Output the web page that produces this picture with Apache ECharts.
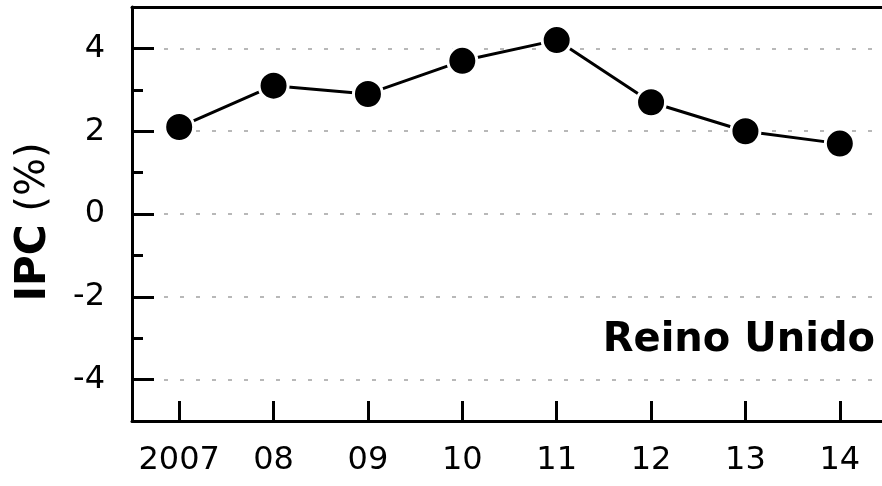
<!DOCTYPE html>
<html lang="es">
<head>
  <meta charset="UTF-8">
  <title>IPC Reino Unido</title>
  <script src="https://cdn.jsdelivr.net/npm/echarts@6/dist/echarts.min.js"></script>
  <style>
    html, body { margin: 0; padding: 0; background: #fff; }
    #main { width: 882px; height: 486px; }
  </style>
</head>
<body>
  <div id="main"></div>
  <script type="text/javascript">
    // values
    var years = ['2007', '08', '09', '10', '11', '12', '13', '14'];
    var ipc = [2.1, 3.1, 2.9, 3.7, 4.2, 2.7, 2.0, 1.7];
    var yMin = -5, yMax = 5;
    var yTicks = ['-5', '-4', '-3', '-2', '-1', '0', '1', '2', '3', '4', '5'];
    var country = 'Reino Unido';

    var font = 'DejaVu Sans';
    var myChart = echarts.init(document.getElementById('main'));

    // major ticks, labels and grid lines only at even values inside the frame
    function isMajor(index, value) {
      var v = Number(value);
      return v % 2 === 0 && Math.abs(v) < 5;
    }

    var option = {
      backgroundColor: '#fff',
      animation: false,
      grid: {
        left: 132, top: 7, width: 755, height: 414,
        outerBoundsMode: 'none',
        containLabel: false,
        show: false
      },
      xAxis: [
        {
          type: 'category',
          data: years,
          boundaryGap: true,
          z: 5,
          axisLine: { show: true, onZero: false, lineStyle: { color: '#000', width: 3 } },
          axisTick: { show: true, alignWithLabel: true, inside: true, length: 20, lineStyle: { color: '#000', width: 3 } },
          axisLabel: { show: true, interval: 0, color: '#000', fontFamily: font, fontSize: 32, margin: 24 },
          splitLine: { show: false }
        },
        {
          // top frame line
          type: 'category',
          data: years,
          position: 'top',
          z: 5,
          axisLine: { show: true, onZero: false, lineStyle: { color: '#000', width: 3 } },
          axisTick: { show: false },
          axisLabel: { show: false },
          splitLine: { show: false }
        }
      ],
      yAxis: [
        {
          // value scale of the series, minor ticks every 1
          type: 'value',
          min: yMin, max: yMax, interval: 1,
          z: 5,
          axisLine: { show: true, onZero: false, lineStyle: { color: '#000', width: 3 } },
          axisTick: { show: true, inside: true, length: 11, lineStyle: { color: '#000', width: 3 } },
          axisLabel: { show: false },
          splitLine: { show: false },
          name: '{b|IPC}{n| (%)}',
          nameLocation: 'middle',
          nameGap: 77,
          nameTextStyle: {
            color: '#000',
            padding: [0, 16, 0, 0],
            rich: {
              b: { fontFamily: font, fontSize: 42, fontWeight: 'bold', color: '#000' },
              n: { fontFamily: font, fontSize: 40, color: '#000' }
            }
          }
        },
        {
          // same range as category ticks: major ticks, labels, grid lines
          type: 'category',
          data: yTicks,
          boundaryGap: false,
          position: 'left',
          z: 6,
          axisLine: { show: false, onZero: false },
          axisTick: { show: true, inside: true, length: 22, interval: isMajor, lineStyle: { color: '#000', width: 3 } },
          axisLabel: { show: true, interval: isMajor, color: '#000', fontFamily: font, fontSize: 32, margin: 27 },
          splitLine: { show: true, interval: isMajor, lineStyle: { color: '#b8b8b8', width: 2, type: [4, 12] } }
        }
      ],
      graphic: [{
        type: 'text',
        right: 7, top: 321,
        style: { text: country, fontFamily: font, fontSize: 40, fontWeight: 'bold', fill: '#000' }
      }],
      series: [{
        type: 'line',
        data: ipc,
        xAxisIndex: 0,
        yAxisIndex: 0,
        symbol: 'circle',
        symbolSize: 29,
        lineStyle: { color: '#000', width: 3 },
        itemStyle: { color: '#000', borderColor: '#fff', borderWidth: 3 },
        z: 10
      }]
    };

    myChart.setOption(option);
  </script>
</body>
</html>
